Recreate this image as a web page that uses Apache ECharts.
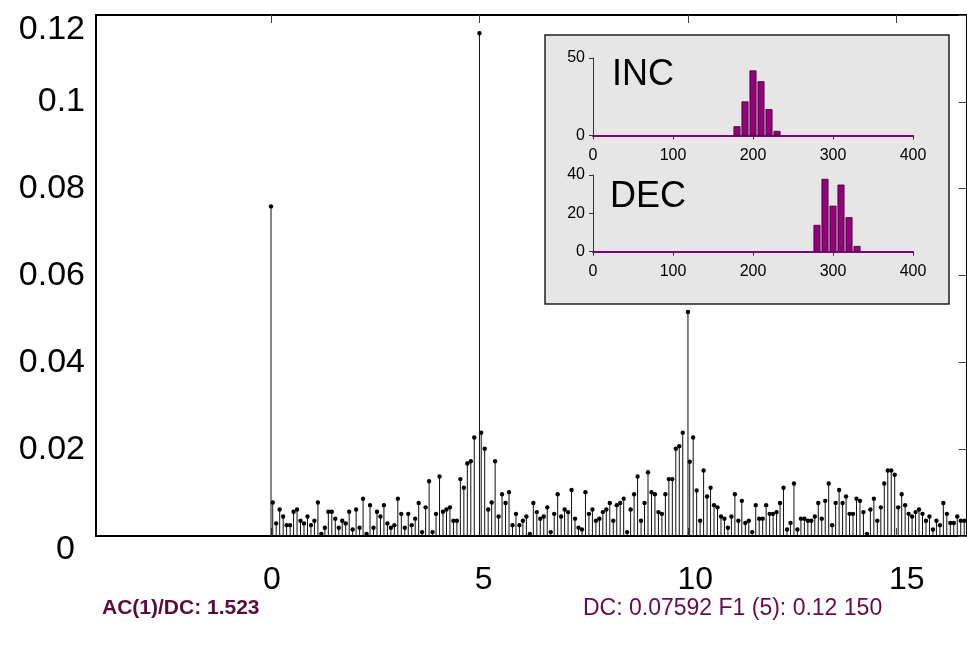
<!DOCTYPE html>
<html><head><meta charset="utf-8">
<script src="https://cdn.jsdelivr.net/npm/echarts@6/dist/echarts.min.js"></script>
<style>html,body{margin:0;padding:0;background:#fff}#c{width:967px;height:646px}</style>
</head><body><div id="c"></div>
<script>
// ---- data ----
const binStep = 1 / 12;              // spectral bin spacing (x units)
const spectrum = [
  0.0077,0.0029,0.0061,0.0045,0.0025,0.0025,0.0056,0.0061,0.0035,0.0029,
  0.0045,0.0025,0.0035,0.0077,0.0005,0.0019,0.0056,0.0056,0.0040,0.0019,
  0.0035,0.0029,0.0056,0.0015,0.0061,0.0019,0.0086,0.0005,0.0071,0.0019,
  0.0056,0.0045,0.0071,0.0029,0.0019,0.0025,0.0086,0.0051,0.0019,0.0051,
  0.0025,0.0040,0.0076,0.0009,0.0066,0.0126,0.0009,0.0051,0.0137,0.0056,
  0.0061,0.0066,0.0035,0.0035,0.0131,0.0111,0.0167,0.0172,0.0227,null,
  0.0238,0.0201,0.0061,0.0077,0.0172,0.0045,0.0096,0.0076,0.0101,0.0025,
  0.0051,0.0025,0.0035,0.0045,0.0005,0.0076,0.0055,0.0040,0.0045,0.0066,
  0.0009,0.0051,0.0096,0.0045,0.0061,0.0055,0.0106,0.0040,0.0019,0.0015,
  0.0101,0.0051,0.0061,0.0035,0.0040,0.0055,0.0061,0.0076,0.0035,0.0071,
  0.0076,0.0086,0.0009,0.0061,0.0096,0.0137,0.0035,0.0076,0.0147,0.0101,
  0.0096,0.0055,0.0051,0.0096,0.0131,0.0131,0.0201,0.0207,0.0238,null,
  0.0171,0.0227,0.0105,0.0035,0.0151,0.0091,0.0111,0.0071,0.0066,0.0045,
  0.0040,0.0019,0.0045,0.0096,0.0035,0.0081,0.0030,0.0035,0.0009,0.0071,
  0.0040,0.0040,0.0071,0.0051,0.0051,0.0055,0.0076,0.0111,0.0015,0.0030,
  0.0121,0.0015,0.0040,0.0040,0.0035,0.0035,0.0045,0.0076,0.0040,0.0081,
  0.0121,0.0025,0.0076,0.0106,0.0076,0.0091,0.0051,0.0051,0.0086,0.0081,
  0.0055,0.0005,0.0061,0.0086,0.0035,0.0066,0.0121,0.0151,0.0151,0.0141,
  0.0066,0.0096,0.0071,0.0051,0.0045,0.0055,0.0061,0.0051,0.0035,0.0045,
  0.0015,0.0035,0.0025,0.0076,0.0051,0.0030,0.0030,0.0045,0.0035,0.0035
];
const harmonicX = [0, 5, 10];
const harmonicY = [0.07592, 0.1158, 0.0516];
const xTickValues = [0, 5, 10, 15];
const incBins = [180, 190, 200, 210, 220, 230];
const incCounts = [6, 22, 42, 35, 17, 3];
const decBins = [280, 290, 300, 310, 320, 330];
const decCounts = [14, 38, 24, 35, 18, 3];
const leftNote = 'AC(1)/DC: 1.523';
const rightNote = 'DC: 0.07592 F1 (5): 0.12 150';

// ---- chart ----
const FONT = '"Liberation Sans", Arial, sans-serif';
const chart = echarts.init(document.getElementById('c'), null, {renderer: 'canvas'});

function stem(params, api) {
  const x = api.value(0), y = api.value(1);
  if (y == null || isNaN(y)) return null;
  const p0 = api.coord([x, 0]);
  const p1 = api.coord([x, y]);
  return {type: 'group', children: [
    {type: 'line', shape: {x1: p0[0], y1: p0[1], x2: p1[0], y2: p1[1]}, style: {stroke: '#111', lineWidth: 1}},
    {type: 'circle', shape: {cx: p1[0], cy: p1[1], r: 2.2}, style: {fill: '#000'}}
  ]};
}

const fmtY = v => String(+v.toFixed(2));
const insetX = {
  type: 'value', min: 0, max: 400, interval: 100, z: 10,
  axisLine: {onZero: false, lineStyle: {color: '#800080', width: 2}},
  axisTick: {show: true, inside: false, length: 4, lineStyle: {color: '#333'}},
  axisLabel: {fontSize: 16, color: '#000', fontFamily: FONT, margin: 12},
  splitLine: {show: false}
};
const insetY = {
  type: 'value', min: 0, z: 10,
  axisLine: {show: true, lineStyle: {color: '#333', width: 1}},
  axisTick: {show: true, inside: false, length: 4, lineStyle: {color: '#333'}},
  axisLabel: {fontSize: 16, color: '#000', fontFamily: FONT, margin: 8},
  splitLine: {show: false}
};

chart.setOption({
  animation: false,
  backgroundColor: '#fff',
  textStyle: {fontFamily: FONT},
  title: [
    {text: leftNote, left: 97, top: 593, textStyle: {fontSize: 21, fontWeight: 'bold', color: '#5a0a3c', fontFamily: FONT}},
    {text: rightNote, left: 578, top: 592, textStyle: {fontSize: 23, fontWeight: 'normal', color: '#6a0a48', fontFamily: FONT}}
  ],
  grid: [
    {left: 96, right: 0.5, top: 15, bottom: 110},
    {left: 593, width: 320, top: 58, height: 77.5},
    {left: 593, width: 320, top: 175, height: 76.7}
  ],
  graphic: [
    {type: 'rect', z: 5, shape: {x: 545, y: 35, width: 404, height: 269},
     style: {fill: '#e6e6e6', stroke: '#222', lineWidth: 1.5}},
    {type: 'text', z: 12, x: 612, y: 75, style: {text: 'INC', font: '36px ' + FONT, fill: '#000', verticalAlign: 'middle'}},
    {type: 'text', z: 12, x: 610, y: 197, style: {text: 'DEC', font: '36px ' + FONT, fill: '#000', verticalAlign: 'middle'}}
  ],
  xAxis: [
    {type: 'value', gridIndex: 0, position: 'bottom', min: -4.197, max: 16.68,
     axisLine: {onZero: false, lineStyle: {color: '#000', width: 2}},
     axisTick: {show: true, inside: true, length: 8, customValues: xTickValues, lineStyle: {color: '#444'}},
     axisLabel: {show: false}, splitLine: {show: false}},
    {type: 'value', gridIndex: 0, position: 'top', min: -4.197, max: 16.68,
     axisLine: {onZero: false, lineStyle: {color: '#000', width: 2}},
     axisTick: {show: true, inside: true, length: 8, customValues: xTickValues, lineStyle: {color: '#444'}},
     axisLabel: {show: false}, splitLine: {show: false}},
    {type: 'value', gridIndex: 0, position: 'bottom', min: -4.158, max: 16.41,
     axisLine: {show: false}, axisTick: {show: false}, splitLine: {show: false},
     axisLabel: {show: true, customValues: xTickValues, fontSize: 32, color: '#000', fontFamily: FONT, margin: 28}},
    Object.assign({gridIndex: 1}, insetX),
    Object.assign({gridIndex: 2}, insetX)
  ],
  yAxis: [
    {type: 'value', gridIndex: 0, position: 'left', min: 0, max: 0.12, interval: 0.02,
     axisLine: {show: true, onZero: false, lineStyle: {color: '#000', width: 2}},
     axisTick: {show: false}, splitLine: {show: false},
     axisLabel: {fontSize: 34, color: '#000', fontFamily: FONT, margin: 11,
       formatter: v => {
         const s = fmtY(v);
         if (v === 0) return '{b|' + s + '}';
         if (Math.abs(v - 0.12) < 1e-9) return '{t|' + s + '}';
         return s;
       },
       rich: {
         t: {fontSize: 34, fontFamily: FONT, color: '#000', padding: [30, 0, 0, 0]},
         b: {fontSize: 34, fontFamily: FONT, color: '#000', padding: [28, 10, 0, 0]}
       }}},
    {type: 'value', gridIndex: 0, position: 'right', min: 0, max: 0.12, interval: 0.02,
     axisLine: {show: true, onZero: false, lineStyle: {color: '#000', width: 2}},
     axisTick: {show: true, inside: true, length: 8, lineStyle: {color: '#444'}},
     axisLabel: {show: false}, splitLine: {show: false}},
    Object.assign({gridIndex: 1, max: 50, interval: 50}, insetY),
    Object.assign({gridIndex: 2, max: 40, interval: 20}, insetY)
  ],
  series: [
    {type: 'custom', xAxisIndex: 0, yAxisIndex: 0, renderItem: stem, z: 2,
     encode: {x: 0, y: 1},
     data: spectrum.map((v, i) => [(i + 0.5) * binStep, v])},
    {type: 'custom', xAxisIndex: 0, yAxisIndex: 0, renderItem: stem, z: 3,
     encode: {x: 0, y: 1},
     data: harmonicX.map((x, i) => [x, harmonicY[i]])},
    {type: 'bar', xAxisIndex: 3, yAxisIndex: 2, z: 10, barWidth: 7,
     itemStyle: {color: '#94007a', borderColor: '#3d0033', borderWidth: 0.8},
     data: incBins.map((b, i) => [b, incCounts[i]])},
    {type: 'bar', xAxisIndex: 4, yAxisIndex: 3, z: 10, barWidth: 7,
     itemStyle: {color: '#94007a', borderColor: '#3d0033', borderWidth: 0.8},
     data: decBins.map((b, i) => [b, decCounts[i]])}
  ]
});
</script>
</body></html>
